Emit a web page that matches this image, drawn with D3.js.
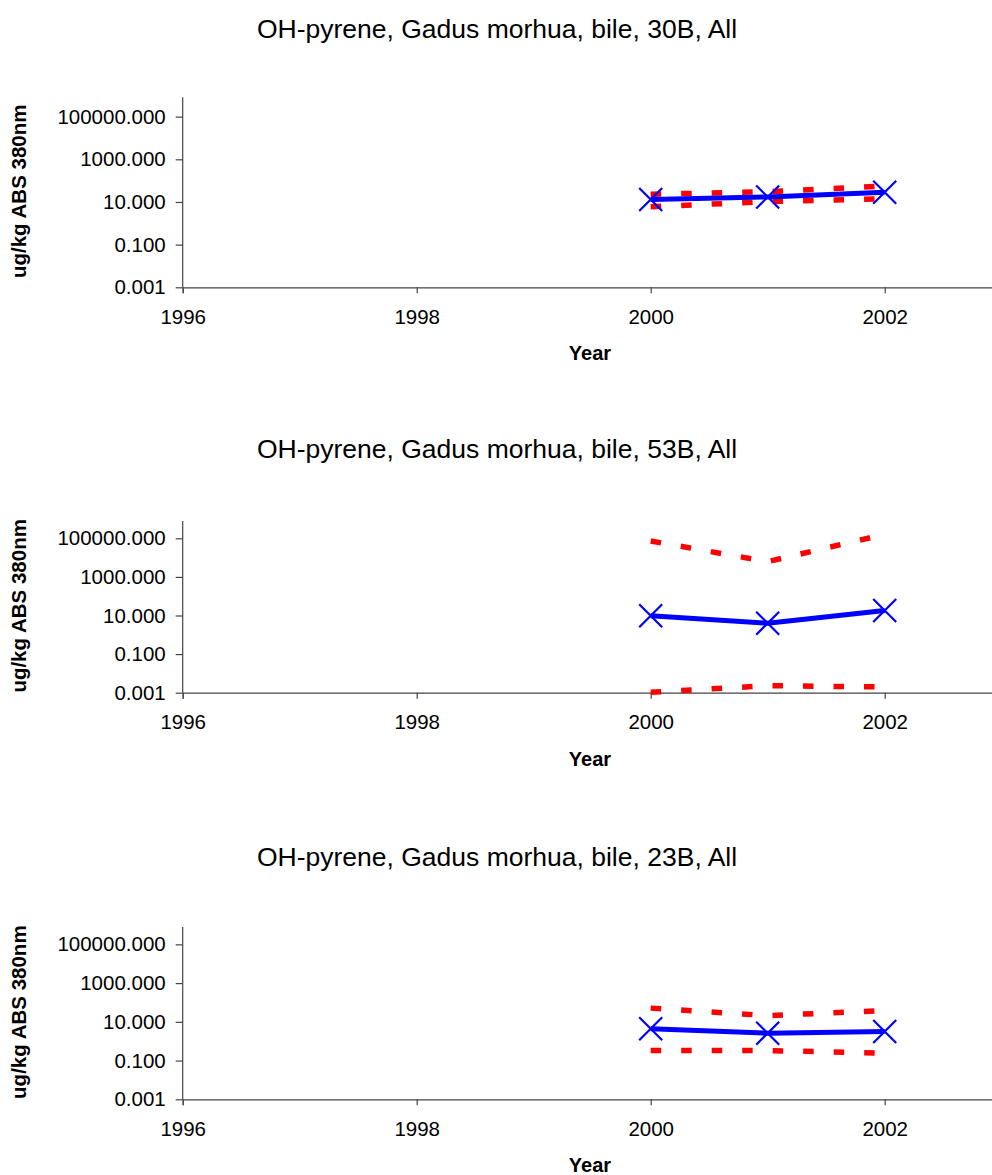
<!DOCTYPE html>
<html>
<head>
<meta charset="utf-8">
<script src="https://cdn.jsdelivr.net/npm/d3@7"></script>
<style>
  html, body { margin: 0; padding: 0; background: #fff; }
  svg { display: block; font-family: Arial, "Liberation Sans", sans-serif; }
</style>
</head>
<body>
<script>
// Sampling years and series per station
const years = [2000, 2001, 2002];
const stations = ["30B", "53B", "23B"];
const titles = stations.map(s => `OH-pyrene, Gadus morhua, bile, ${s}, All`);

// Fitted level (blue) and upper / lower bounds (red dashed), ug/kg ABS 380nm
const median30B = [13.1, 17.1, 28.5];
const upper30B  = [23, 30, 56];
const lower30B  = [6.0, 10.3, 14.3];

const median53B = [9.6, 4.0, 18.2];
const upper53B  = [72000, 6200, 160000];
const lower53B  = [0.00105, 0.0023, 0.0020];

const median23B = [4.4, 2.6, 3.2];
const upper23B  = [51, 21, 38];
const lower23B  = [0.33, 0.33, 0.24];

// Axis ticks
const yTickValues = [0.001, 0.1, 10, 1000, 100000];
const xTickValues = [1996, 1998, 2000, 2002];
const yDomain = [0.001, 1e6];
const xDomain = [1996, 2003];

const panels = [
  { title: titles[0], median: median30B, upper: upper30B, lower: lower30B },
  { title: titles[1], median: median53B, upper: upper53B, lower: lower53B },
  { title: titles[2], median: median23B, upper: upper23B, lower: lower23B }
];

// Panel geometry (plot area top/bottom, title baseline)
const layout = [
  { top: 95.3,  bottom: 287.3,  titleY: 38 },
  { top: 519,   bottom: 692.7,  titleY: 458 },
  { top: 925,   bottom: 1099.3, titleY: 866 }
];

const W = 992, H = 1175;
const plotLeft = 182.7, plotRight = 1001.7;

const svg = d3.select("body").append("svg")
  .attr("width", W).attr("height", H)
  .style("overflow", "hidden");

const x = d3.scaleLinear().domain(xDomain).range([plotLeft, plotRight]);
const fmt = d3.format(".3f");

panels.forEach((p, i) => {
  const L = layout[i];
  const y = d3.scaleLog().domain(yDomain).range([L.bottom, L.top]);
  const g = svg.append("g");

  // Title
  g.append("text")
    .attr("x", 497).attr("y", L.titleY)
    .attr("text-anchor", "middle")
    .attr("font-size", 26.5)
    .attr("fill", "#000")
    .text(p.title);

  // Y axis
  const yAxis = d3.axisLeft(y).tickValues(yTickValues).tickFormat(fmt).tickSize(7).tickPadding(10);
  const ya = g.append("g").attr("transform", `translate(${plotLeft},0)`).call(yAxis);
  ya.select(".domain").attr("d", `M0,${L.top + 2}V${L.bottom}`);

  // X axis
  const xAxis = d3.axisBottom(x).tickValues(xTickValues).tickFormat(d3.format("d")).tickSize(6).tickPadding(16);
  const xa = g.append("g").attr("transform", `translate(0,${L.bottom})`).call(xAxis);

  [ya, xa].forEach(a => {
    a.selectAll(".domain").attr("stroke", "#444").attr("stroke-width", 1.2);
    a.selectAll(".tick line").attr("stroke", "#444").attr("stroke-width", 1.2);
    a.selectAll(".tick text").attr("font-size", 20.5).attr("fill", "#000")
      .attr("font-family", "Arial, 'Liberation Sans', sans-serif");
  });

  // Axis titles
  g.append("text")
    .attr("transform", `translate(26,${(L.top + L.bottom) / 2}) rotate(-90)`)
    .attr("text-anchor", "middle")
    .attr("font-size", 20.5).attr("font-weight", "bold")
    .text("ug/kg ABS 380nm");

  g.append("text")
    .attr("x", 590).attr("y", L.bottom + 73)
    .attr("text-anchor", "middle")
    .attr("font-size", 20).attr("font-weight", "bold")
    .text("Year");

  const line = d3.line().x((d, k) => x(years[k])).y(d => y(d));

  // Bounds
  [p.upper, p.lower].forEach(series => {
    g.append("path")
      .datum(series)
      .attr("d", line)
      .attr("fill", "none")
      .attr("stroke", "#ff0000")
      .attr("stroke-width", 5.5)
      .attr("stroke-dasharray", "10.5,20")
      .attr("stroke-linecap", "butt");
  });

  // Fitted level
  g.append("path")
    .datum(p.median)
    .attr("d", line)
    .attr("fill", "none")
    .attr("stroke", "#0000ff")
    .attr("stroke-width", 5)
    .attr("stroke-linejoin", "round");

  // X markers
  const r = 11.5;
  g.selectAll("path.marker")
    .data(p.median)
    .join("path")
    .attr("class", "marker")
    .attr("d", (d, k) => {
      const cx = x(years[k]), cy = y(d);
      return `M${cx - r},${cy - r}L${cx + r},${cy + r}M${cx - r},${cy + r}L${cx + r},${cy - r}`;
    })
    .attr("stroke", "#0000ff")
    .attr("stroke-width", 2.2)
    .attr("fill", "none");
});
</script>
</body>
</html>
